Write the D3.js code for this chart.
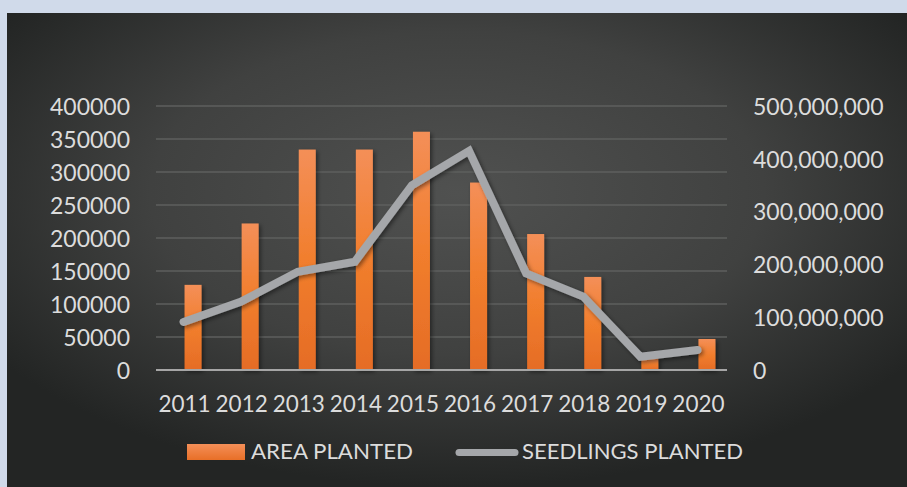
<!DOCTYPE html>
<html><head><meta charset="utf-8">
<script src="https://cdn.jsdelivr.net/npm/d3@7"></script>
<style>html,body{margin:0;padding:0;background:#D0DAEA;}svg{display:block;}</style>
</head><body>
<svg id="c" width="907" height="487"></svg>
<script>
const years = ["2011","2012","2013","2014","2015","2016","2017","2018","2019","2020"];
const areaPlanted = [129000, 222000, 334000, 334000, 361000, 284000, 206000, 141000, 18000, 47000];
const seedlingsPlanted = [91000000, 129000000, 186000000, 205000000, 350000000, 415000000, 183000000, 139000000, 25000000, 38000000];
const leftTicks = [0, 50000, 100000, 150000, 200000, 250000, 300000, 350000, 400000];
const rightTicks = [0, 100000000, 200000000, 300000000, 400000000, 500000000];
const seriesNames = ["AREA PLANTED", "SEEDLINGS PLANTED"];

(function(){
const svg = d3.select("#c");
const W = 907, H = 487;
const defs = svg.append("defs");
const bg = defs.append("radialGradient").attr("id","bg").attr("cx","50%").attr("cy","38%").attr("r","62%");
bg.append("stop").attr("offset","0%").attr("stop-color","#505150");
bg.append("stop").attr("offset","55%").attr("stop-color","#404140");
bg.append("stop").attr("offset","100%").attr("stop-color","#232524");
const bar = defs.append("linearGradient").attr("id","bar").attr("x1",0).attr("y1",0).attr("x2",0).attr("y2",1);
bar.append("stop").attr("offset","0%").attr("stop-color","#F48F58");
bar.append("stop").attr("offset","50%").attr("stop-color","#F17E2D");
bar.append("stop").attr("offset","100%").attr("stop-color","#E56C26");
const lg = defs.append("linearGradient").attr("id","lgbar").attr("x1",0).attr("y1",0).attr("x2",0).attr("y2",1);
lg.append("stop").attr("offset","0%").attr("stop-color","#F48F58");
lg.append("stop").attr("offset","100%").attr("stop-color","#E86F27");
const sh = defs.append("filter").attr("id","sh").attr("x","-20%").attr("y","-20%").attr("width","150%").attr("height","150%");
sh.append("feDropShadow").attr("dx",2).attr("dy",2).attr("stdDeviation",2).attr("flood-color","#000").attr("flood-opacity",0.45);

svg.append("rect").attr("x",7).attr("y",13).attr("width",W-7).attr("height",H-13).attr("fill","url(#bg)");

const pl = 156, pr = 727, pt = 106, pb = 370;
const x = d3.scaleBand().domain(years).range([pl, pr]).padding(0);
const yL = d3.scaleLinear().domain([0, 400000]).range([pb, pt]);
const yR = d3.scaleLinear().domain([0, 500000000]).range([pb, pt]);
const cx = d => x(d) + x.bandwidth()/2;
const textColor = "#DCDCDC";
const font = "Lato, 'Open Sans', sans-serif";

svg.append("g").selectAll("line").data(leftTicks.filter(t => t > 0)).join("line")
  .attr("x1", pl).attr("x2", pr).attr("y1", d => yL(d)).attr("y2", d => yL(d))
  .attr("stroke", "#5E5F5E").attr("stroke-width", 1.3);

const axL = d3.axisLeft(yL).tickValues(leftTicks).tickSize(0).tickPadding(0).tickFormat(d3.format("d"));
const gL = svg.append("g").attr("transform", `translate(130,0)`).call(axL);
gL.select(".domain").remove();
gL.selectAll("text").attr("fill", textColor).style("font-family", font).style("font-size", "23px")
  .attr("dy", "0.36em");

const axR = d3.axisRight(yR).tickValues(rightTicks).tickSize(0).tickPadding(0).tickFormat(d3.format(","));
const gR = svg.append("g").attr("transform", `translate(753,0)`).call(axR);
gR.select(".domain").remove();
gR.selectAll("text").attr("fill", textColor).style("font-family", font).style("font-size", "23px")
  .attr("dy", "0.36em");

const bw = 17;
svg.append("g").attr("filter","url(#sh)").selectAll("rect").data(years).join("rect")
  .attr("x", d => cx(d)).attr("width", bw)
  .attr("y", (d,i) => yL(areaPlanted[i])).attr("height", (d,i) => pb - yL(areaPlanted[i]))
  .attr("fill", "url(#bar)");

svg.append("line").attr("x1", pl).attr("x2", pr).attr("y1", pb).attr("y2", pb)
  .attr("stroke", "#A6A6A6").attr("stroke-width", 2);

const line = d3.line().x(d => cx(d[0]) - 1).y(d => yR(d[1]));
svg.append("path").datum(years.map((y,i) => [y, seedlingsPlanted[i]]))
  .attr("d", line).attr("fill","none").attr("stroke","#A5A7AA").attr("stroke-width",8)
  .attr("stroke-linejoin","miter").attr("stroke-linecap","round").attr("filter","url(#sh)");

const axX = d3.axisBottom(x).tickSize(0).tickPadding(0);
const gX = svg.append("g").attr("transform", `translate(0,396)`).call(axX);
gX.select(".domain").remove();
gX.selectAll("text").attr("fill", textColor).style("font-family", font).style("font-size", "22.5px")
  .attr("dy", "0.71em");

const leg = svg.append("g");
leg.append("rect").attr("x", 187).attr("y", 444).attr("width", 58).attr("height", 16).attr("fill", "url(#lgbar)");
leg.append("text").attr("x", 251).attr("y", 459).text(seriesNames[0])
  .attr("fill", textColor).style("font-family", font).style("font-size", "21px")
  .attr("textLength", 162).attr("lengthAdjust","spacingAndGlyphs");
leg.append("line").attr("x1", 459).attr("x2", 515).attr("y1", 452.5).attr("y2", 452.5)
  .attr("stroke", "#A5A7AA").attr("stroke-width", 7).attr("stroke-linecap","round");
leg.append("text").attr("x", 522).attr("y", 459).text(seriesNames[1])
  .attr("fill", textColor).style("font-family", font).style("font-size", "21px")
  .attr("textLength", 221).attr("lengthAdjust","spacingAndGlyphs");
})();
</script>
</body></html>
